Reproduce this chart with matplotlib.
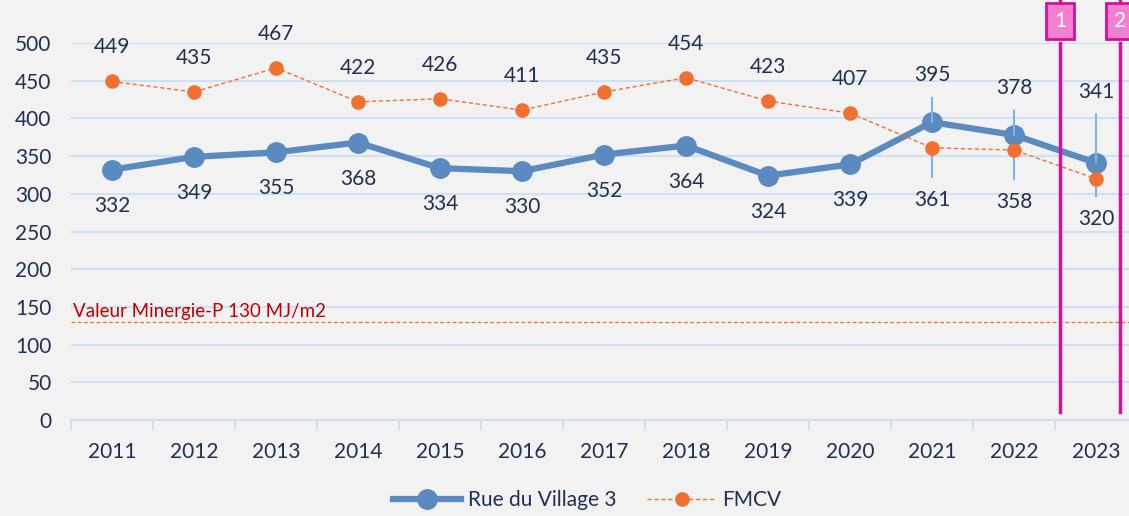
import matplotlib
matplotlib.use("Agg")
import matplotlib.pyplot as plt
import matplotlib.transforms as mtransforms
from matplotlib.lines import Line2D
import numpy as np

years = ["2011", "2012", "2013", "2014", "2015", "2016", "2017", "2018",
         "2019", "2020", "2021", "2022", "2023"]
rue = [332, 349, 355, 368, 334, 330, 352, 364, 324, 339, 395, 378, 341]
fmcv = [449, 435, 467, 422, 426, 411, 435, 454, 423, 407, 361, 358, 320]
minergie = 130
markers_x = [11.56, 12.29]
markers_txt = ["1", "2"]

BG = "#f2f2f2"
TXT = "#1f3050"
BLUE = "#5a8ac0"
ORANGE = "#f07030"
GRID = "#cfe0f3"
MAG = "#d0139f"
FS = 15

plt.rcParams['font.family'] = ['Lato', 'DejaVu Sans']

fig = plt.figure(figsize=(11.29, 5.16), dpi=100)
fig.patch.set_facecolor(BG)
ax = fig.add_axes([71 / 1129, 1 - 420 / 516, (1137 - 71) / 1129, (420 - 43) / 516])
ax.set_facecolor(BG)

x = np.arange(len(years))
ax.set_xlim(-0.5, len(years) - 0.5)
ax.set_ylim(0, 500)

ax.set_yticks(np.arange(0, 501, 50))
ax.yaxis.grid(True, color=GRID, linewidth=1.5)
ax.set_axisbelow(True)
ax.tick_params(axis='y', length=0, labelsize=FS, labelcolor=TXT, pad=14)
ax.set_xticks(x)
ax.set_xticklabels(years)
ax.set_xticks(np.arange(-0.5, len(years), 1), minor=True)
ax.tick_params(axis='x', which='major', length=0, labelsize=FS, labelcolor=TXT, pad=16)
ax.tick_params(axis='x', which='minor', length=7, color=GRID, width=1.5)
for s in ['top', 'right', 'left']:
    ax.spines[s].set_visible(False)
ax.spines['bottom'].set_color(GRID)
ax.spines['bottom'].set_linewidth(1.5)

# threshold
ax.axhline(minergie, color=ORANGE, linestyle=(0, (3, 2)), linewidth=0.9)
ax.text(-0.48, minergie + 3, "Valeur Minergie-P 130 MJ/m2", color="#c00000",
        fontsize=13.5, ha='left', va='bottom')

ax.plot(x, rue, color=BLUE, linewidth=4.5, marker='o', markersize=14,
        solid_capstyle='round', zorder=3)
ax.plot(x, fmcv, color=ORANGE, linewidth=1, linestyle=(0, (3, 2)), marker='o',
        markersize=9.5, zorder=4)

# labels
for i in range(len(years)):
    if i < 10:
        ax.annotate(str(rue[i]), (x[i], rue[i]), xytext=(0, -36),
                    textcoords='offset pixels', ha='center', va='center',
                    fontsize=FS, color=TXT)
        ax.annotate(str(fmcv[i]), (x[i], fmcv[i]), xytext=(0, 34),
                    textcoords='offset pixels', ha='center', va='center',
                    fontsize=FS, color=TXT)
    else:
        up = 47 if i < 12 else 71
        dn = 52 if i < 12 else 40
        ax.annotate(str(rue[i]), (x[i], rue[i]), xytext=(0, up),
                    textcoords='offset pixels', ha='center', va='center',
                    fontsize=FS, color=TXT,
                    arrowprops=dict(arrowstyle='-', color="#7fb2e5", lw=1.5,
                                    shrinkA=7, shrinkB=0))
        ax.annotate(str(fmcv[i]), (x[i], fmcv[i]), xytext=(0, -dn),
                    textcoords='offset pixels', ha='center', va='center',
                    fontsize=FS, color=TXT,
                    arrowprops=dict(arrowstyle='-', color="#7fb2e5", lw=1.5,
                                    shrinkA=7, shrinkB=0))

# magenta markers
trans = mtransforms.blended_transform_factory(ax.transData, fig.transFigure)
for mx, mt in zip(markers_x, markers_txt):
    ax.plot([mx, mx], [10, 500], color=MAG, linewidth=2.5, clip_on=False, zorder=5)
    ax.plot([mx, mx], [500, 1 - 36 / 516], color=MAG, linewidth=2.5, clip_on=False,
            zorder=5, transform=trans)
    ax.text(mx, 1 - 21 / 516, mt, transform=trans, ha='center', va='center',
            fontsize=15, color='white', zorder=6,
            bbox=dict(boxstyle='square,pad=0.38', facecolor="#f27fcf",
                      edgecolor=MAG, linewidth=2))

handles = [Line2D([], [], color=BLUE, linewidth=4.5, marker='o', markersize=14),
           Line2D([], [], color=ORANGE, linewidth=1, linestyle=(0, (3, 2)),
                  marker='o', markersize=9.5)]
fig.legend(handles, ["Rue du Village 3", "FMCV"], loc='center',
           bbox_to_anchor=(0.52, 1 - 500 / 516), ncol=2, frameon=False,
           fontsize=FS, labelcolor=TXT, handlelength=3.3, handletextpad=0.3,
           columnspacing=1.5)

fig.savefig("out.png", dpi=100, facecolor=BG)
